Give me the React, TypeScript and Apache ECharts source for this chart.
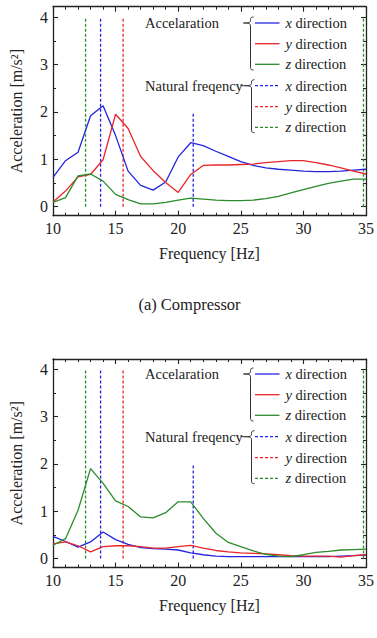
import React, { useEffect, useRef } from 'react';
import * as echarts from 'echarts';

// ---------- data ----------
const freqs = [10, 11, 12, 13, 14, 15, 16, 17, 18, 19, 20, 21, 22, 23, 24, 25, 26, 27, 28, 29, 30, 31, 32, 33, 34, 35];

// (a) Compressor
const compX = [0.62, 0.97, 1.15, 1.92, 2.13, 1.5, 0.75, 0.45, 0.35, 0.52, 1.05, 1.35, 1.29, 1.17, 1.06, 0.95, 0.87, 0.82, 0.79, 0.77, 0.75, 0.74, 0.74, 0.75, 0.77, 0.79];
const compY = [0.1, 0.33, 0.63, 0.68, 0.99, 1.95, 1.65, 1.06, 0.76, 0.51, 0.3, 0.68, 0.87, 0.88, 0.88, 0.89, 0.9, 0.93, 0.95, 0.97, 0.97, 0.93, 0.88, 0.82, 0.75, 0.69];
const compZ = [0.09, 0.19, 0.65, 0.69, 0.54, 0.26, 0.15, 0.06, 0.06, 0.09, 0.14, 0.18, 0.16, 0.14, 0.13, 0.13, 0.14, 0.17, 0.22, 0.29, 0.36, 0.43, 0.49, 0.54, 0.58, 0.58];

// (b) second unit
const unitX = [0.47, 0.36, 0.24, 0.35, 0.56, 0.4, 0.3, 0.23, 0.21, 0.2, 0.18, 0.12, 0.08, 0.05, 0.04, 0.04, 0.04, 0.04, 0.04, 0.04, 0.04, 0.04, 0.04, 0.05, 0.06, 0.07];
const unitY = [0.31, 0.35, 0.27, 0.14, 0.25, 0.27, 0.27, 0.25, 0.22, 0.22, 0.25, 0.28, 0.22, 0.17, 0.14, 0.12, 0.11, 0.1, 0.08, 0.06, 0.05, 0.05, 0.05, 0.03, 0.06, 0.08];
const unitZ = [0.28, 0.42, 1.02, 1.9, 1.59, 1.22, 1.1, 0.88, 0.86, 0.97, 1.2, 1.2, 0.85, 0.54, 0.34, 0.25, 0.16, 0.09, 0.05, 0.04, 0.08, 0.13, 0.15, 0.18, 0.19, 0.2];

// natural frequencies (Hz) and the height each dashed marker reaches
const natFreqX = [13.8, 21.2];
const natTopX = [4, 2];
const natFreqY = [15.6];
const natTopY = [4];
const natFreqZ = [12.6, 34.8];
const natTopZ = [4, 4];

const yMajorTicks = [0, 1, 2, 3, 4];
const yMinorTicks = [0.5, 1.5, 2.5, 3.5];
const legendRows = ['x', 'y', 'z'];

// ---------- styles ----------
const FONT = 'Liberation Serif';
const INK = '#222';
const BLUE = '#2424e0';
const RED = '#e8262a';
const GREEN = '#2a8c2a';
const COLORS = [BLUE, RED, GREEN];

const BRACE_D = 'M10,-6 C8,-6 7,-5.2 7,-3.5 L7,-2.2 C7,-0.6 5,0 0,0 C5,0 7,0.6 7,2.4 L7,44.5 C7,46.3 8,47 10,47';
try {
  echarts.graphic.registerShape('lbrace', (echarts.graphic as any).extendPath(BRACE_D, {}));
} catch (e) {
  // ignore
}

const GRIDS = [
  { left: 52.7, top: 6.7, width: 313.3, height: 209 },
  { left: 52.7, top: 359, width: 313.3, height: 208.5 },
];
const Y_MIN = -0.19;
const Y_MAX = 4.22;

function frameLine() {
  return { show: true, onZero: false, lineStyle: { color: INK, width: 1.3 } };
}

function buildOption() {
  const xAxis: any[] = [];
  const yAxis: any[] = [];
  const series: any[] = [];
  const graphic: any[] = [];
  const datasets = [
    [compX, compY, compZ],
    [unitX, unitY, unitZ],
  ];
  const legendOffsets = [0, 351];

  GRIDS.forEach((g, gi) => {
    ['bottom', 'top'].forEach((pos) => {
      xAxis.push({
        type: 'value',
        gridIndex: gi,
        position: pos,
        min: 10,
        max: 35,
        interval: 5,
        axisLine: frameLine(),
        axisTick: { show: true, inside: true, length: 5, lineStyle: { color: INK, width: 1.1 } },
        minorTick: { show: true, splitNumber: 5, length: 3, lineStyle: { color: INK, width: 1 } },
        splitLine: { show: false },
        minorSplitLine: { show: false },
        axisLabel: pos === 'bottom'
          ? { show: true, fontSize: 16, fontFamily: FONT, color: INK, margin: 5 }
          : { show: false },
        name: pos === 'bottom' ? 'Frequency [Hz]' : '',
        nameLocation: 'middle',
        nameGap: 30,
        nameTextStyle: { fontSize: 16, fontFamily: FONT, color: INK },
      });
    });
    ['left', 'right'].forEach((pos) => {
      yAxis.push({
        type: 'value',
        gridIndex: gi,
        position: pos,
        min: Y_MIN,
        max: Y_MAX,
        axisLine: frameLine(),
        axisTick: { show: true, inside: true, length: 5, customValues: yMajorTicks, lineStyle: { color: INK, width: 1.1 } },
        splitLine: { show: false },
        axisLabel: pos === 'left'
          ? { show: true, customValues: yMajorTicks, fontSize: 16, fontFamily: FONT, color: INK, margin: 5 }
          : { show: false },
        name: pos === 'left' ? 'Acceleration [m/s²]' : '',
        nameLocation: 'middle',
        nameGap: 29,
        nameRotate: 90,
        nameTextStyle: { fontSize: 16, fontFamily: FONT, color: INK },
      });
    });
    ['left', 'right'].forEach((pos) => {
      yAxis.push({
        type: 'value',
        gridIndex: gi,
        position: pos,
        min: Y_MIN,
        max: Y_MAX,
        axisLine: { show: false, onZero: false },
        axisTick: { show: true, inside: true, length: 3, customValues: yMinorTicks, lineStyle: { color: INK, width: 1 } },
        splitLine: { show: false },
        axisLabel: { show: false },
      });
    });

    const xIdx = gi * 2;
    const yIdx = gi * 4;

    // natural frequency markers
    const nat = [
      [natFreqX, natTopX],
      [natFreqY, natTopY],
      [natFreqZ, natTopZ],
    ];
    nat.forEach(([fs, tops], ci) => {
      (fs as number[]).forEach((f, k) => {
        series.push({
          type: 'line',
          xAxisIndex: xIdx,
          yAxisIndex: yIdx,
          data: [[f, 0], [f, (tops as number[])[k]]],
          symbol: 'none',
          silent: true,
          lineStyle: { color: COLORS[ci], width: 1.3, type: [3, 2] },
        });
      });
    });

    // measured curves
    datasets[gi].forEach((vals, ci) => {
      series.push({
        type: 'line',
        name: `${legendRows[ci]} direction`,
        xAxisIndex: xIdx,
        yAxisIndex: yIdx,
        data: freqs.map((f, i) => [f, vals[i]]),
        symbol: 'none',
        lineStyle: { color: COLORS[ci], width: 1.3 },
      });
    });

    // legend (hand drawn like the figure)
    const oy = legendOffsets[gi];
    const rowsY = [23, 43.7, 64.3, 85.7, 106.7, 127.3].map((v) => v + oy);
    graphic.push({
      type: 'text',
      x: 145,
      y: rowsY[0],
      style: { text: 'Accelaration', fontSize: 14.5, fontFamily: FONT, fill: INK, align: 'left', verticalAlign: 'middle' },
    });
    graphic.push({
      type: 'text',
      x: 145,
      y: rowsY[3],
      style: { text: 'Natural freqency', fontSize: 14.5, fontFamily: FONT, fill: INK, align: 'left', verticalAlign: 'middle' },
    });
    graphic.push({ type: 'line', shape: { x1: 240.5, y1: rowsY[3], x2: 244.5, y2: rowsY[3] }, style: { stroke: '#333', lineWidth: 1 } });
    graphic.push({ type: 'lbrace', x: 243.5, y: rowsY[0], style: { stroke: '#333', fill: 'none', lineWidth: 1 } });
    graphic.push({ type: 'lbrace', x: 244.5, y: rowsY[3], style: { stroke: '#333', fill: 'none', lineWidth: 1 } });
    for (let r = 0; r < 6; r++) {
      const ci = r % 3;
      const dashed = r >= 3;
      graphic.push({
        type: 'line',
        shape: { x1: 255, y1: rowsY[r], x2: 279.5, y2: rowsY[r] },
        style: { stroke: COLORS[ci], lineWidth: 1.3, lineDash: dashed ? [3, 2] : null },
      });
      graphic.push({
        type: 'text',
        x: 285.5,
        y: rowsY[r],
        style: {
          text: `{i|${legendRows[ci]}} direction`,
          rich: { i: { fontStyle: 'italic', fontSize: 14.5, fontFamily: FONT, fill: INK } },
          fontSize: 14.5,
          fontFamily: FONT,
          fill: INK,
          align: 'left',
          verticalAlign: 'middle',
        },
      });
    }
  });

  graphic.push({
    type: 'text',
    x: 189.5,
    y: 304,
    style: { text: '(a) Compressor', fontSize: 16.5, fontFamily: FONT, fill: INK, align: 'center', verticalAlign: 'middle' },
  });

  return {
    animation: false,
    backgroundColor: '#fff',
    textStyle: { fontFamily: FONT },
    grid: GRIDS.map((g) => ({ ...g, containLabel: false })),
    xAxis,
    yAxis,
    series,
    graphic,
  };
}

export default function App() {
  const ref = useRef<HTMLDivElement>(null);
  useEffect(() => {
    document.body.style.margin = '0';
    if (!ref.current) return;
    const chart = echarts.init(ref.current, null, { renderer: 'svg' });
    chart.setOption(buildOption() as any);
    return () => chart.dispose();
  }, []);
  return <div ref={ref} style={{ width: 377, height: 638 }} />;
}
